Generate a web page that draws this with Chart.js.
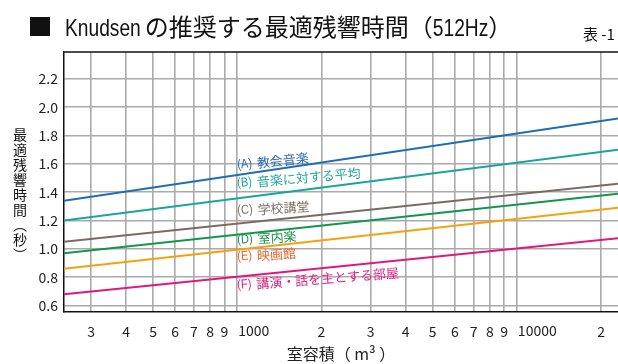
<!DOCTYPE html>
<html>
<head>
<meta charset="utf-8">
<script src="https://cdn.jsdelivr.net/npm/chart.js@4/dist/chart.umd.min.js"></script>
<style>
  html, body { margin: 0; padding: 0; background: #ffffff; }
  #wrap { position: relative; width: 618px; height: 364px; }
</style>
</head>
<body>
<div id="wrap"><canvas id="chart" width="618" height="364"></canvas></div>
<script>
// Room volume (m³) at the two ends of each recommendation line
const volumes = [240, 23000];

// Recommended reverberation time (s) at 512 Hz, at each end
const churchMusic   = [1.34, 1.92];   // (A)
const musicAverage  = [1.20, 1.70];   // (B)
const schoolHall    = [1.05, 1.46];   // (C)
const chamberMusic  = [0.97, 1.39];   // (D)
const cinema        = [0.86, 1.29];   // (E)
const speechRoom    = [0.68, 1.075];  // (F)

const seriesTags  = ['(A)', '(B)', '(C)', '(D)', '(E)', '(F)'];
const seriesNames = ['教会音楽', '音楽に対する平均', '学校講堂', '室内楽', '映画館', '講演・話を主とする部屋'];

// Axis ticks
const xTickValues = [300, 400, 500, 600, 700, 800, 900, 1000, 2000, 3000, 4000, 5000, 6000, 7000, 8000, 9000, 10000, 20000];
const xTickLabels = ['3', '4', '5', '6', '7', '8', '9', '1000', '2', '3', '4', '5', '6', '7', '8', '9', '10000', '2'];
const xDecadeLabels = ['1000', '10000']; // written to the right of their grid line
const yTickValues = [0.6, 0.8, 1.0, 1.2, 1.4, 1.6, 1.8, 2.0, 2.2];
const yTickLabels = ['0.6', '0.8', '1.0', '1.2', '1.4', '1.6', '1.8', '2.0', '2.2'];

// Styling
const lineColors  = ['#1f6db3', '#17a59c', '#7a6b62', '#12964c', '#f5a10f', '#e0187c'];
const labelColors = ['#2a6db0', '#21a59a', '#7d7068', '#1d9550', '#e8642a', '#e0207f'];
const labelOffsets = [-10, -15, -13, 5.5, 7, 8.5];   // px from the line at the label start
const labelAngles  = [-6, -5, -3.5, -4, -3.5, -4.5]; // degrees
const labelAtVolume = 1000;

const latin = '"Liberation Sans", "DejaVu Sans", sans-serif';
const cjk = '"Noto Sans CJK JP", sans-serif';
const tickFont = '"Noto Sans CJK JP", "DejaVu Sans", sans-serif';

const seriesValues = [churchMusic, musicAverage, schoolHall, chamberMusic, cinema, speechRoom];

const datasets = seriesValues.map((vals, i) => ({
  label: seriesTags[i] + ' ' + seriesNames[i],
  data: volumes.map((v, j) => ({ x: v, y: vals[j] })),
  borderColor: lineColors[i],
  borderWidth: 2,
  pointRadius: 0,
  fill: false,
  tension: 0
}));

// Draws a sequence of text runs; latin runs are horizontally condensed.
function drawRuns(ctx, runs, x, y) {
  runs.forEach(r => {
    ctx.font = r.font;
    const w = ctx.measureText(r.text).width * r.sx;
    ctx.save();
    ctx.translate(x, y);
    ctx.scale(r.sx, 1);
    ctx.fillText(r.text, 0, 0);
    ctx.restore();
    x += w + (r.gap || 0);
  });
  return x;
}

const decor = {
  id: 'decor',
  afterDraw(chart) {
    const { ctx, chartArea: a, scales: { x, y } } = chart;
    ctx.save();

    // frame top edge
    ctx.strokeStyle = '#111';
    ctx.lineWidth = 1.5;
    ctx.beginPath();
    ctx.moveTo(a.left, a.top);
    ctx.lineTo(a.right, a.top);
    ctx.stroke();

    // heading
    ctx.fillStyle = '#111';
    ctx.textBaseline = 'alphabetic';
    ctx.textAlign = 'left';
    ctx.fillRect(30, 17, 20, 19);
    drawRuns(ctx, [
      { text: 'Knudsen', font: '24px ' + latin, sx: 0.8, gap: 4 },
      { text: 'の推奨する最適残響時間（', font: '24px ' + cjk, sx: 1 },
      { text: '512Hz', font: '24px ' + latin, sx: 0.8 },
      { text: '）', font: '24px ' + cjk, sx: 1 }
    ], 65, 36);

    ctx.font = '15px ' + cjk;
    ctx.textBaseline = 'middle';
    ctx.fillText('表 -1', 583, 34);

    // vertical axis caption, one glyph per row
    const cap = ['最', '適', '残', '響', '時', '間', '︵', '秒', '︶'];
    ctx.font = '14px ' + cjk;
    ctx.textAlign = 'center';
    cap.forEach((ch, i) => ctx.fillText(ch, 20, 135 + i * 15));

    // decade labels beside their grid lines
    ctx.textAlign = 'left';
    ctx.fillStyle = '#222';
    ctx.font = '14px ' + tickFont;
    [1000, 10000].forEach((v, i) => ctx.fillText(xDecadeLabels[i], x.getPixelForValue(v) + 1, 331));

    // line captions
    ctx.textBaseline = 'middle';
    chart.data.datasets.forEach((ds, i) => {
      const p0 = { x: x.getPixelForValue(ds.data[0].x), y: y.getPixelForValue(ds.data[0].y) };
      const p1 = { x: x.getPixelForValue(ds.data[1].x), y: y.getPixelForValue(ds.data[1].y) };
      const lx = x.getPixelForValue(labelAtVolume);
      const ly = p0.y + (p1.y - p0.y) * (lx - p0.x) / (p1.x - p0.x) + labelOffsets[i];
      ctx.save();
      ctx.translate(lx, ly);
      ctx.rotate(labelAngles[i] * Math.PI / 180);
      ctx.fillStyle = labelColors[i];
      drawRuns(ctx, [
        { text: seriesTags[i], font: '13px ' + latin, sx: 0.85, gap: 5 },
        { text: seriesNames[i], font: '13px ' + cjk, sx: 1 }
      ], 0, 0);
      ctx.restore();
    });
    ctx.restore();
  }
};

new Chart(document.getElementById('chart'), {
  type: 'line',
  data: { datasets },
  options: {
    responsive: false,
    animation: false,
    layout: { padding: { top: 52, right: 0, bottom: 0, left: 0 } },
    plugins: { legend: { display: false }, tooltip: { enabled: false }, title: { display: false } },
    scales: {
      x: {
        type: 'logarithmic',
        min: 240,
        max: 23000,
        afterBuildTicks: (s) => { s.ticks = xTickValues.map(v => ({ value: v })); },
        afterFit: (s) => { s.height = 52; },
        grid: { color: '#aaaaaa', lineWidth: 1.6, drawTicks: false },
        border: { color: '#111', width: 1.5 },
        ticks: {
          autoSkip: false,
          maxRotation: 0,
          padding: 11,
          color: '#222',
          font: { family: tickFont, size: 14 },
          callback: (v, i) => (xDecadeLabels.includes(xTickLabels[i]) ? '' : xTickLabels[i])
        },
        title: {
          display: true,
          text: '室容積（ m³ ）',
          color: '#222',
          font: { family: cjk, size: 16 },
          padding: { top: 0, bottom: 0 }
        }
      },
      y: {
        type: 'linear',
        min: 0.555,
        max: 2.39,
        afterBuildTicks: (s) => { s.ticks = yTickValues.map(v => ({ value: v })); },
        afterFit: (s) => { s.width = 64; },
        grid: { color: '#aaaaaa', lineWidth: 1.6, drawTicks: false },
        border: { color: '#111', width: 1.5 },
        ticks: {
          padding: 6,
          color: '#222',
          font: { family: tickFont, size: 14 },
          callback: (v, i) => yTickLabels[i]
        }
      }
    }
  },
  plugins: [decor]
});
</script>
</body>
</html>
